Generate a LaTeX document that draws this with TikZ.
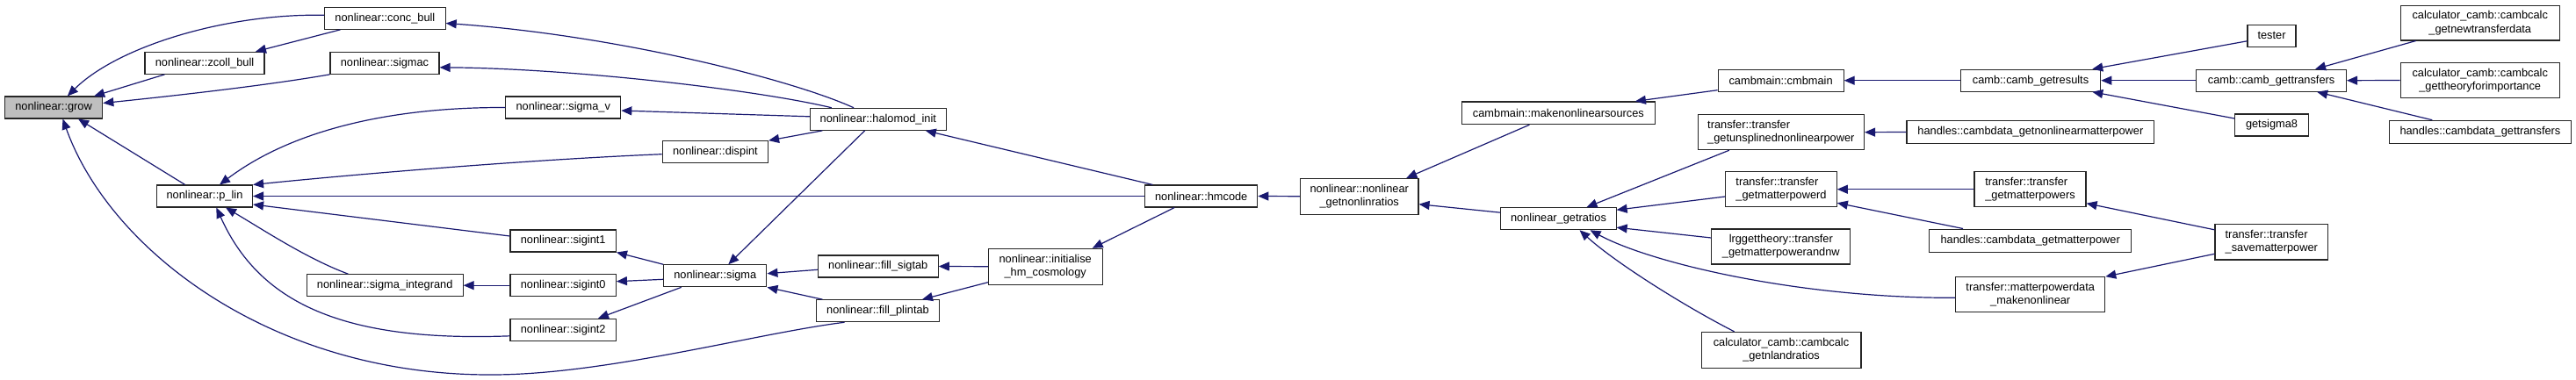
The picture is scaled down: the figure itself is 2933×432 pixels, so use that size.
\documentclass[tikz,border=0pt]{standalone}
\usepackage{fontspec}
\setmainfont{Liberation Sans}
\usetikzlibrary{arrows.meta}
\definecolor{mblue}{HTML}{191970}
\definecolor{gfill}{HTML}{BFBFBF}
\newcommand\nodefont{\fontsize{12.8}{15.3}\selectfont}
\tikzset{
  nd/.style={draw=black!85, fill=white, line width=1.1pt, inner sep=0pt, minimum height=25pt, font=\nodefont},
  nd2/.style={nd, minimum height=40pt, align=center},
  nd2l/.style={nd, minimum height=40pt, align=left},
  edge/.style={draw=mblue, line width=1.2pt, {Triangle[length=12pt,width=10pt]}-}
}
\begin{document}
\begin{tikzpicture}[x=1pt,y=-1pt]
\useasboundingbox (0,0) rectangle (2933,432);
% nodes
\node[nd, fill=gfill, minimum width=111.4pt] (grow) at (61.1,122.5) {nonlinear::grow};
\node[nd, minimum width=137.5pt] (conc) at (438.4,20.8) {nonlinear::conc\_bull};
\node[nd, minimum width=136pt] (zcoll) at (233,71.8) {nonlinear::zcoll\_bull};
\node[nd, minimum width=124pt] (sigmac) at (438,71.8) {nonlinear::sigmac};
\node[nd, minimum width=109pt] (plin) at (233,223.5) {nonlinear::p\_lin};
\node[nd, minimum width=177.8pt] (sigint) at (438.2,325.2) {nonlinear::sigma\_integrand};
\node[nd, minimum width=131pt] (sigmav) at (641.3,122.5) {nonlinear::sigma\_v};
\node[nd, minimum width=120.3pt] (dispint) at (814.4,173.2) {nonlinear::dispint};
\node[nd, minimum width=154.6pt] (halomod) at (999.8,135.8) {nonlinear::halomod\_init};
\node[nd, minimum width=120.4pt] (sigint1) at (641.2,274.5) {nonlinear::sigint1};
\node[nd, minimum width=120.4pt] (sigint0) at (641.2,325.2) {nonlinear::sigint0};
\node[nd, minimum width=120.4pt] (sigint2) at (641.2,375.8) {nonlinear::sigint2};
\node[nd, minimum width=117.2pt] (sigma) at (814.3,314.3) {nonlinear::sigma};
\node[nd, minimum width=136.8pt] (fillsig) at (999.8,303.5) {nonlinear::fill\_sigtab};
\node[nd, minimum width=140.3pt] (fillplin) at (999.5,354.2) {nonlinear::fill\_plintab};
\node[nd2, minimum width=129.7pt, minimum height=40.7pt] (initcos) at (1190.2,303.7) {nonlinear::initialise\\\_hm\_cosmology};
\node[nd, minimum width=128.2pt] (hmcode) at (1367.7,223.5) {nonlinear::hmcode};
\node[nd2, minimum width=134.6pt, minimum height=40.7pt] (getnonlin) at (1547.7,223.7) {nonlinear::nonlinear\\\_getnonlinratios};
\node[nd, minimum width=220pt, minimum height=25.7pt] (makenl) at (1774.4,128.8) {cambmain::makenonlinearsources};
\node[nd, minimum width=131.2pt] (getratios) at (1774.5,249.2) {nonlinear\_getratios};
\node[nd, minimum width=143pt] (cmbmain) at (2027.6,91.7) {cambmain::cmbmain};
\node[nd2l, minimum width=189.4pt] (unspl) at (2027.8,150.7) {transfer::transfer\\\_getunsplinednonlinearpower};
\node[nd2l, minimum width=126.5pt] (getmpd) at (2028,215.7) {transfer::transfer\\\_getmatterpowerd};
\node[nd2, minimum width=157.8pt] (lrg) at (2027.8,281) {lrggettheory::transfer\\\_getmatterpowerandnw};
\node[nd2, minimum width=181.9pt, minimum height=40.7pt] (nland) at (2028,398.7) {calculator\_camb::cambcalc\\\_getnlandratios};
\node[nd, minimum width=159.4pt] (getres) at (2312,91.7) {camb::camb\_getresults};
\node[nd, minimum width=281.8pt, minimum height=26pt] (hnonlin) at (2311.9,150.5) {handles::cambdata\_getnonlinearmatterpower};
\node[nd2l, minimum width=127pt] (getmps) at (2311.5,215.7) {transfer::transfer\\\_getmatterpowers};
\node[nd, minimum width=230pt, minimum height=26.3pt] (hgetmp) at (2311.7,274.2) {handles::cambdata\_getmatterpower};
\node[nd2, minimum width=170pt] (mpdata) at (2311.7,335.7) {transfer::matterpowerdata\\\_makenonlinear};
\node[nd, minimum width=55pt] (tester) at (2586.5,40.8) {tester};
\node[nd, minimum width=170.8pt] (gettr) at (2586.1,91.7) {camb::camb\_gettransfers};
\node[nd, minimum width=83.3pt] (getsig8) at (2586.5,142.5) {getsigma8};
\node[nd2l, minimum width=128.7pt, minimum height=40.3pt] (save) at (2586.3,275.8) {transfer::transfer\\\_savematterpower};
\node[nd2, minimum width=181.2pt, minimum height=39.3pt] (newtr) at (2823.7,26.3) {calculator\_camb::cambcalc\\\_getnewtransferdata};
\node[nd2, minimum width=181.2pt, minimum height=39.3pt] (theory) at (2823.7,91.5) {calculator\_camb::cambcalc\\\_gettheoryforimportance};
\node[nd, minimum width=207.4pt, minimum height=26pt] (hgettr) at (2823.9,150.3) {handles::cambdata\_gettransfers};
% edges
\draw[edge] ([xshift=15.7pt]grow.north) .. controls (135,52) and (260,15) .. ([yshift=3.5pt]conc.west);
\draw[edge] ([xshift=46pt]grow.north) -- ([xshift=-45.5pt]zcoll.south);
\draw[edge] ([yshift=5pt]grow.east) .. controls (190,110) and (300,98) .. (sigmac.south west);
\draw[edge] ([xshift=28pt]grow.south) -- ([xshift=-22.3pt]plin.north);
\draw[edge] ([xshift=10.4pt]grow.south) .. controls (125,285) and (310,428) .. (560,427) .. controls (690,427) and (860,380) .. ([xshift=-38pt]fillplin.south);
\draw[edge] ([xshift=58pt]zcoll.north) -- ([xshift=-51pt]conc.south);
\draw[edge] ([yshift=-5.7pt]conc.east) .. controls (700,40) and (900,90) .. ([xshift=-27.8pt]halomod.north);
\draw[edge] ([yshift=-5pt]sigmac.east) .. controls (650,78) and (860,102) .. ([xshift=-53pt]halomod.north);
\draw[edge] ([xshift=17pt]plin.north) .. controls (330,150) and (440,122) .. (sigmav.west);
\draw[edge] (plin.north east) .. controls (400,199) and (600,182) .. ([yshift=-2.5pt]dispint.west);
\draw[edge] ([yshift=-3.5pt]sigmav.east) -- ([yshift=3pt]halomod.west);
\draw[edge] (dispint.north east) -- ([xshift=-63.4pt]halomod.south);
\draw[edge] ([xshift=15pt]sigma.north) -- ([xshift=-15.2pt]halomod.south);
\draw[edge] ([xshift=54pt]halomod.south) -- ([xshift=-55.3pt]hmcode.north);
\draw[edge] (plin.east) -- (hmcode.west);
\draw[edge] ([yshift=-9.5pt]plin.east) -- ([yshift=5.5pt]sigint1.west);
\draw[edge] ([xshift=24pt]plin.south) .. controls (300,262) and (350,295) .. ([xshift=-41.8pt]sigint.north);
\draw[edge] ([xshift=13.4pt]plin.south) .. controls (295,345) and (390,390) .. ([yshift=-7pt]sigint2.west);
\draw[edge] (sigint.east) -- (sigint0.west);
\draw[edge] (sigint1.south east) -- (sigma.north west);
\draw[edge] ([yshift=4.5pt]sigint0.east) -- ([yshift=-4pt]sigma.west);
\draw[edge] ([xshift=39.8pt]sigint2.north) -- ([xshift=-38.6pt]sigma.south);
\draw[edge] ([yshift=2.6pt]sigma.east) -- ([yshift=-3.8pt]fillsig.west);
\draw[edge] (sigma.south east) -- ([xshift=-63.1pt]fillplin.north);
\draw[edge] (fillsig.east) -- (initcos.west);
\draw[edge] ([xshift=50.5pt]fillplin.north) -- ([yshift=-18pt]initcos.west);
\draw[edge] ([xshift=53.5pt]initcos.north) -- ([xshift=-30.5pt]hmcode.south);
\draw[edge] (hmcode.east) -- (getnonlin.west);
\draw[edge] ([xshift=53.6pt]getnonlin.north) -- ([xshift=-33pt]makenl.south);
\draw[edge] ([yshift=-9pt]getnonlin.east) -- ([yshift=7pt]getratios.west);
\draw[edge] ([xshift=87.5pt]makenl.north) -- ([yshift=-11pt]cmbmain.west);
\draw[edge] (cmbmain.east) -- (getres.west);
\draw[edge] ([xshift=-10pt]getres.north east) -- ([yshift=-6pt]tester.west);
\draw[edge] (getres.east) -- (gettr.west);
\draw[edge] ([xshift=-10pt]getres.south east) -- ([yshift=7.5pt]getsig8.west);
\draw[edge] ([xshift=50pt]gettr.north) -- ([xshift=-73pt]newtr.south);
\draw[edge] (gettr.east) -- (theory.west);
\draw[edge] ([xshift=52pt]gettr.south) -- ([xshift=-54.6pt]hgettr.north);
\draw[edge] ([xshift=32pt]getratios.north) -- ([xshift=-59pt]unspl.south);
\draw[edge] (unspl.east) -- (hnonlin.west);
\draw[edge] ([yshift=10pt]getratios.east) -- ([yshift=-8.3pt]getmpd.west);
\draw[edge] (getmpd.east) -- (getmps.west);
\draw[edge] ([yshift=5pt]getmpd.south east) -- ([xshift=-76.7pt]hgetmp.north);
\draw[edge] ([yshift=-16pt]getmps.east) -- ([yshift=14pt]save.west);
\draw[edge] (mpdata.north east) -- ([yshift=-13.5pt]save.west);
\draw[edge] ([yshift=-10pt]getratios.east) -- ([yshift=10pt]lrg.west);
\draw[edge] ([xshift=36pt]getratios.south) .. controls (1880,300) and (2050,340) .. ([yshift=-3.6pt]mpdata.west);
\draw[edge] ([xshift=24pt]getratios.south) .. controls (1840,300) and (1920,350) .. ([xshift=-53.4pt]nland.north);
\end{tikzpicture}
\end{document}
